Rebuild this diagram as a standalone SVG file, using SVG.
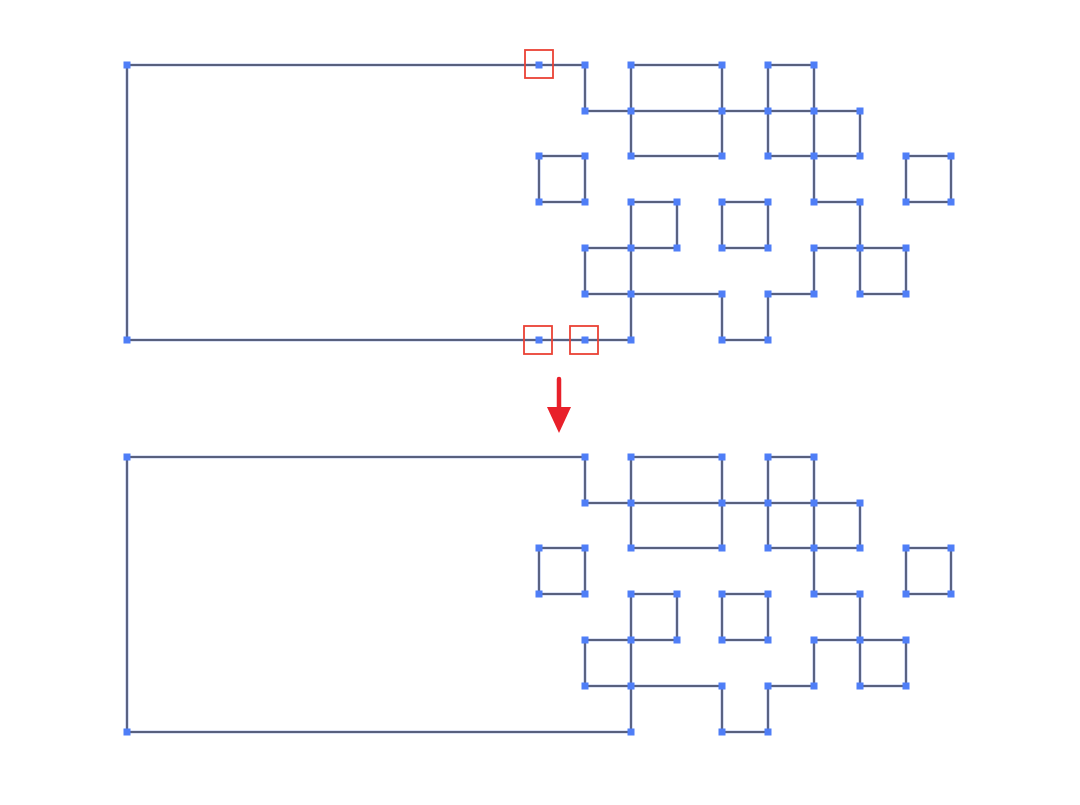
<svg xmlns="http://www.w3.org/2000/svg" width="1080" height="805" viewBox="0 0 1080 805">
<defs>
<style>
.ln{fill:none;stroke:#7a90d8;stroke-width:2.6;stroke-linecap:square}
.lc{fill:none;stroke:#4d5060;stroke-width:1.4;stroke-linecap:square}
.dt{fill:#4f7ef7}
.rb{fill:none;stroke:#ea4235;stroke-width:1.8}
</style>
<path id="shape" d="M127,65 H585 V111 H860 M127,65 V340 H631 M631,65 H722 V156 H631 V65 M768,65 H814 V202 H860 V294 H906 V248 H814 V294 H768 V340 H722 V294 H631 M768,65 V156 H860 V111 M539,156 H585 V202 H539 Z M906,156 H951 V202 H906 Z M722,202 H768 V248 H722 Z M631,202 H677 V248 H585 V294 H631 M631,202 V340"/>
<rect id="d" x="-3.5" y="-3.5" width="7" height="7"/>
</defs>
<rect width="1080" height="805" fill="#fff"/>
<g id="top">
<g id="top-lines"><use href="#shape" class="ln"/><use href="#shape" class="lc"/></g>
<g id="top-dots" class="dt">
<use href="#d" x="127" y="65"/><use href="#d" x="539" y="65"/><use href="#d" x="585" y="65"/><use href="#d" x="631" y="65"/><use href="#d" x="722" y="65"/><use href="#d" x="768" y="65"/><use href="#d" x="814" y="65"/>
<use href="#d" x="585" y="111"/><use href="#d" x="631" y="111"/><use href="#d" x="722" y="111"/><use href="#d" x="768" y="111"/><use href="#d" x="814" y="111"/><use href="#d" x="860" y="111"/>
<use href="#d" x="539" y="156"/><use href="#d" x="585" y="156"/><use href="#d" x="631" y="156"/><use href="#d" x="722" y="156"/><use href="#d" x="768" y="156"/><use href="#d" x="814" y="156"/><use href="#d" x="860" y="156"/><use href="#d" x="906" y="156"/><use href="#d" x="951" y="156"/>
<use href="#d" x="539" y="202"/><use href="#d" x="585" y="202"/><use href="#d" x="631" y="202"/><use href="#d" x="677" y="202"/><use href="#d" x="722" y="202"/><use href="#d" x="768" y="202"/><use href="#d" x="814" y="202"/><use href="#d" x="860" y="202"/><use href="#d" x="906" y="202"/><use href="#d" x="951" y="202"/>
<use href="#d" x="585" y="248"/><use href="#d" x="631" y="248"/><use href="#d" x="677" y="248"/><use href="#d" x="722" y="248"/><use href="#d" x="768" y="248"/><use href="#d" x="814" y="248"/><use href="#d" x="860" y="248"/><use href="#d" x="906" y="248"/>
<use href="#d" x="585" y="294"/><use href="#d" x="631" y="294"/><use href="#d" x="722" y="294"/><use href="#d" x="768" y="294"/><use href="#d" x="814" y="294"/><use href="#d" x="860" y="294"/><use href="#d" x="906" y="294"/>
<use href="#d" x="127" y="340"/><use href="#d" x="539" y="340"/><use href="#d" x="585" y="340"/><use href="#d" x="631" y="340"/><use href="#d" x="722" y="340"/><use href="#d" x="768" y="340"/>
</g>
<g id="highlights">
<rect class="rb" x="525" y="50" width="28" height="28"/>
<rect class="rb" x="524" y="326" width="28" height="28"/>
<rect class="rb" x="570" y="326" width="28" height="28"/>
</g>
</g>
<g id="arrow">
<line x1="559" y1="379" x2="559" y2="410" stroke="#e8202a" stroke-width="4.5" stroke-linecap="round"/>
<polygon points="547,407 571,407 559,433" fill="#e8202a"/>
</g>
<g id="bottom" transform="translate(0,392)">
<g id="bottom-lines"><use href="#shape" class="ln"/><use href="#shape" class="lc"/></g>
<g id="bottom-dots" class="dt">
<use href="#d" x="127" y="65"/><use href="#d" x="585" y="65"/><use href="#d" x="631" y="65"/><use href="#d" x="722" y="65"/><use href="#d" x="768" y="65"/><use href="#d" x="814" y="65"/>
<use href="#d" x="585" y="111"/><use href="#d" x="631" y="111"/><use href="#d" x="722" y="111"/><use href="#d" x="768" y="111"/><use href="#d" x="814" y="111"/><use href="#d" x="860" y="111"/>
<use href="#d" x="539" y="156"/><use href="#d" x="585" y="156"/><use href="#d" x="631" y="156"/><use href="#d" x="722" y="156"/><use href="#d" x="768" y="156"/><use href="#d" x="814" y="156"/><use href="#d" x="860" y="156"/><use href="#d" x="906" y="156"/><use href="#d" x="951" y="156"/>
<use href="#d" x="539" y="202"/><use href="#d" x="585" y="202"/><use href="#d" x="631" y="202"/><use href="#d" x="677" y="202"/><use href="#d" x="722" y="202"/><use href="#d" x="768" y="202"/><use href="#d" x="814" y="202"/><use href="#d" x="860" y="202"/><use href="#d" x="906" y="202"/><use href="#d" x="951" y="202"/>
<use href="#d" x="585" y="248"/><use href="#d" x="631" y="248"/><use href="#d" x="677" y="248"/><use href="#d" x="722" y="248"/><use href="#d" x="768" y="248"/><use href="#d" x="814" y="248"/><use href="#d" x="860" y="248"/><use href="#d" x="906" y="248"/>
<use href="#d" x="585" y="294"/><use href="#d" x="631" y="294"/><use href="#d" x="722" y="294"/><use href="#d" x="768" y="294"/><use href="#d" x="814" y="294"/><use href="#d" x="860" y="294"/><use href="#d" x="906" y="294"/>
<use href="#d" x="127" y="340"/><use href="#d" x="631" y="340"/><use href="#d" x="722" y="340"/><use href="#d" x="768" y="340"/>
</g>
</g>
</svg>
